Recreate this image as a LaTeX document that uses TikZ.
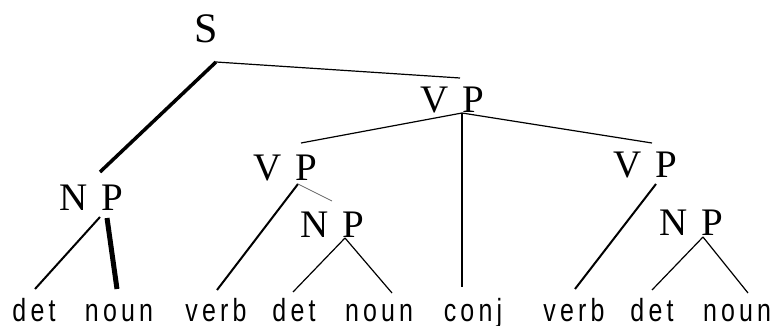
\documentclass[tikz,border=0pt]{standalone}
\usepackage{fontspec}
\setmainfont{Liberation Serif}
\newfontfamily\wordfont[FakeStretch=0.78,LetterSpace=13]{Liberation Sans}
\newcommand{\catgap}{\hspace{14pt}}
\begin{document}
\begin{tikzpicture}[x=1pt,y=-1pt,
  cat/.style={inner sep=0pt,anchor=base,font=\fontsize{39}{39}\selectfont},
  word/.style={inner sep=0pt,anchor=base,text depth=0pt,font=\wordfont\fontsize{32}{32}\selectfont},
  thin/.style={line width=1.2pt},
  mid/.style={line width=2pt},
  heavy/.style={line width=3.5pt},
  heavier/.style={line width=5pt},
  faint/.style={line width=0.7pt,black!60}]
\useasboundingbox (0,0) rectangle (771,326);
% category labels
\node[cat,font=\fontsize{42}{42}\selectfont] (S) at (206,43) {S};
\node[cat] (VP0) at (452,113) {V\catgap P};
\node[cat] (VP1) at (285,180) {V\catgap P};
\node[cat] (VP2) at (645,178) {V\catgap P};
\node[cat] (NP1) at (91,210) {N\catgap P};
\node[cat] (NP2) at (332,237) {N\catgap P};
\node[cat] (NP3) at (691,235) {N\catgap P};
% words
\node[word] (w1) at (34,321) {det};
\node[word] (w2) at (119,321) {noun};
\node[word] (w3) at (216,321) {verb};
\node[word] (w4) at (294,321) {det};
\node[word] (w5) at (379,321) {noun};
\node[word] (w6) at (473,321) {conj};
\node[word] (w7) at (574,321) {verb};
\node[word] (w8) at (652,321) {det};
\node[word] (w9) at (737,321) {noun};
% connectors
\draw[heavy] ([shift={(10,19)}]S.base) -- ([shift={(9,-38)}]NP1.base);
\draw[thin] ([shift={(10,19)}]S.base) -- ([shift={(8,-35)}]VP0.base);
\draw[thin] ([shift={(10,0)}]VP0.base) -- ([shift={(16,-37)}]VP1.base);
\draw[thin] ([shift={(10,0)}]VP0.base) -- ([shift={(-11,-34)}]w6.base);
\draw[thin] ([shift={(10,0)}]VP0.base) -- ([shift={(7,-35)}]VP2.base);
\draw[mid] ([shift={(13,4)}]VP1.base) -- ([shift={(1,-31)}]w3.base);
\draw[faint] ([shift={(13,4)}]VP1.base) -- ([shift={(0,-36)}]NP2.base);
\draw[mid] ([shift={(9,7)}]NP1.base) -- ([shift={(1,-32)}]w1.base);
\draw[heavier] ([shift={(16,8)}]NP1.base) -- ([shift={(-2,-32)}]w2.base);
\draw[thin] ([shift={(13,1)}]NP2.base) -- ([shift={(-1,-29)}]w4.base);
\draw[thin] ([shift={(13,1)}]NP2.base) -- ([shift={(13,-28)}]w5.base);
\draw[mid] ([shift={(11,6)}]VP2.base) -- ([shift={(1,-32)}]w7.base);
\draw[thin] ([shift={(12,2)}]NP3.base) -- ([shift={(0,-31)}]w8.base);
\draw[thin] ([shift={(12,2)}]NP3.base) -- ([shift={(11,-28)}]w9.base);
\end{tikzpicture}
\end{document}
